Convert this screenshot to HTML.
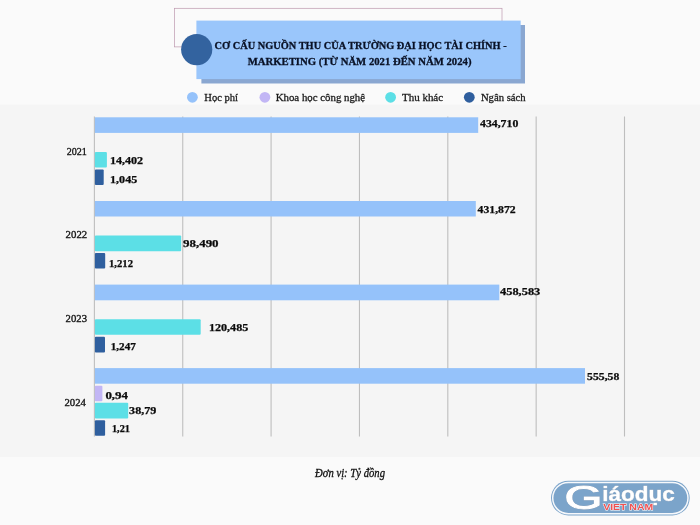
<!DOCTYPE html>
<html lang="vi"><head><meta charset="utf-8"><title>Cơ cấu nguồn thu</title>
<style>
html,body{margin:0;padding:0;background:#fafafa;}
body{width:700px;height:525px;overflow:hidden;position:relative;font-family:"Liberation Serif",serif;}
svg{position:absolute;left:0;top:0;display:block}
text{font-family:"Liberation Serif",serif;fill:#0a0a0a;}
.b{font-weight:bold;font-size:9.6px;stroke:#111;stroke-width:0.25px;}
.y{font-size:9.3px;fill:#151515;stroke:#151515;stroke-width:0.3px;}
.lg{font-size:11.3px;fill:#1a1a1a;stroke:#1a1a1a;stroke-width:0.3px;}
.lgo{font-family:"Liberation Sans",sans-serif;font-weight:bold;fill:#fff;stroke:#fff;stroke-width:0.8px;}
.t{font-weight:bold;font-size:11.2px;fill:#0a1226;stroke:#0a1226;stroke-width:0.3px;}
</style></head><body>
<svg width="700" height="525" viewBox="0 0 700 525">
<rect x="0" y="0" width="700" height="525" fill="#fafafa"/>
<rect x="0" y="104.7" width="700" height="352.3" fill="#f5f5f5"/>

<rect x="174.5" y="8.3" width="327.5" height="38.6" fill="none" stroke="#bd98ae" stroke-width="0.7"/>
<rect x="201.4" y="25" width="323.6" height="58.5" fill="#8aa7d1"/>
<rect x="196.4" y="20.6" width="324.3" height="58.5" fill="#9ac6fb"/>
<circle cx="196.7" cy="49.6" r="15.6" fill="#33639f"/>
<text class="t" x="214.6" y="49.2" textLength="292" lengthAdjust="spacingAndGlyphs">CƠ CẤU NGUỒN THU CỦA TRƯỜNG ĐẠI HỌC TÀI CHÍNH -</text>
<text class="t" x="247.7" y="64.9" textLength="223.8" lengthAdjust="spacingAndGlyphs">MARKETING (TỪ NĂM 2021 ĐẾN NĂM 2024)</text>
<circle cx="192.4" cy="97.3" r="5.4" fill="#95c2fa"/>
<text class="lg" x="204.3" y="100.8" textLength="33.7" lengthAdjust="spacingAndGlyphs">Học phí</text>
<circle cx="264.9" cy="97.3" r="5.4" fill="#c2b6f5"/>
<text class="lg" x="275.7" y="100.8" textLength="89.4" lengthAdjust="spacingAndGlyphs">Khoa học công nghệ</text>
<circle cx="390.6" cy="97.3" r="5.4" fill="#5cdfe6"/>
<text class="lg" x="402.0" y="100.8" textLength="41.1" lengthAdjust="spacingAndGlyphs">Thu khác</text>
<circle cx="469.3" cy="97.3" r="5.4" fill="#2f5f9e"/>
<text class="lg" x="480.9" y="100.8" textLength="44.8" lengthAdjust="spacingAndGlyphs">Ngân sách</text>
<line x1="94.40" y1="116.5" x2="94.40" y2="436.5" stroke="#bebebe" stroke-width="1.1"/>
<line x1="182.75" y1="116.5" x2="182.75" y2="436.5" stroke="#bebebe" stroke-width="1.1"/>
<line x1="271.10" y1="116.5" x2="271.10" y2="436.5" stroke="#bebebe" stroke-width="1.1"/>
<line x1="359.45" y1="116.5" x2="359.45" y2="436.5" stroke="#bebebe" stroke-width="1.1"/>
<line x1="447.80" y1="116.5" x2="447.80" y2="436.5" stroke="#bebebe" stroke-width="1.1"/>
<line x1="536.15" y1="116.5" x2="536.15" y2="436.5" stroke="#bebebe" stroke-width="1.1"/>
<line x1="624.50" y1="116.5" x2="624.50" y2="436.5" stroke="#bebebe" stroke-width="1.1"/>
<rect x="94.9" y="117.3" width="383.3" height="15.6" fill="#95c2fa" rx="0"/>
<rect x="94.9" y="152.1" width="12.0" height="15.5" fill="#5cdfe6" rx="1"/>
<rect x="94.9" y="169.6" width="8.8" height="15.5" fill="#2f5f9e" rx="1"/>
<rect x="94.9" y="201.0" width="380.9" height="15.5" fill="#95c2fa" rx="0"/>
<rect x="94.9" y="235.5" width="86.3" height="15.7" fill="#5cdfe6" rx="1"/>
<rect x="94.9" y="253.0" width="10.3" height="15.6" fill="#2f5f9e" rx="1"/>
<rect x="94.9" y="284.6" width="404.4" height="15.7" fill="#95c2fa" rx="0"/>
<rect x="94.9" y="319.2" width="105.8" height="15.5" fill="#5cdfe6" rx="1"/>
<rect x="94.9" y="336.8" width="10.1" height="15.7" fill="#2f5f9e" rx="1"/>
<rect x="94.9" y="368.1" width="490.1" height="15.6" fill="#95c2fa" rx="0"/>
<rect x="94.9" y="385.8" width="7.5" height="15.5" fill="#c2b6f5" rx="1"/>
<rect x="94.9" y="402.8" width="33.3" height="15.8" fill="#5cdfe6" rx="1"/>
<rect x="94.9" y="420.3" width="10.2" height="15.5" fill="#2f5f9e" rx="1"/>
<text class="b" x="480.0" y="126.7" textLength="38.3" lengthAdjust="spacingAndGlyphs">434,710</text>
<text class="b" x="109.9" y="163.9" textLength="33.2" lengthAdjust="spacingAndGlyphs">14,402</text>
<text class="b" x="110.1" y="182.9" textLength="27.1" lengthAdjust="spacingAndGlyphs">1,045</text>
<text class="b" x="477.6" y="213.3" textLength="38.1" lengthAdjust="spacingAndGlyphs">431,872</text>
<text class="b" x="183.0" y="246.6" textLength="35.6" lengthAdjust="spacingAndGlyphs">98,490</text>
<text class="b" x="109.0" y="266.6" textLength="24.0" lengthAdjust="spacingAndGlyphs">1,212</text>
<text class="b" x="500.0" y="294.7" textLength="40.3" lengthAdjust="spacingAndGlyphs">458,583</text>
<text class="b" x="208.9" y="331.4" textLength="39.4" lengthAdjust="spacingAndGlyphs">120,485</text>
<text class="b" x="110.7" y="349.6" textLength="25.2" lengthAdjust="spacingAndGlyphs">1,247</text>
<text class="b" x="587.1" y="380.3" textLength="32.2" lengthAdjust="spacingAndGlyphs">555,58</text>
<text class="b" x="105.4" y="398.9" textLength="22.6" lengthAdjust="spacingAndGlyphs">0,94</text>
<text class="b" x="129.1" y="413.8" textLength="27.2" lengthAdjust="spacingAndGlyphs">38,79</text>
<text class="b" x="111.9" y="431.8" textLength="18.1" lengthAdjust="spacingAndGlyphs">1,21</text>
<text class="y" x="66.7" y="154.6" textLength="20.2" lengthAdjust="spacingAndGlyphs">2021</text>
<text class="y" x="65.6" y="237.9" textLength="21.6" lengthAdjust="spacingAndGlyphs">2022</text>
<text class="y" x="65.6" y="321.5" textLength="21.4" lengthAdjust="spacingAndGlyphs">2023</text>
<text class="y" x="64.4" y="405.6" textLength="21.5" lengthAdjust="spacingAndGlyphs">2024</text>
<text x="315" y="476.6" font-style="italic" font-size="11.6px" fill="#1a1a1a" stroke="#1a1a1a" stroke-width="0.3" textLength="70" lengthAdjust="spacingAndGlyphs">Đơn vị: Tỷ đồng</text>
<g>
<rect x="551" y="480.7" width="138.7" height="34.7" rx="17.35" fill="#7ba4ca"/>
<rect x="552.7" y="482.4" width="135.3" height="31.3" rx="15.65" fill="none" stroke="#f6f8fb" stroke-width="1.5"/>
<g style="filter:drop-shadow(0.7px 0.7px 0.4px #3f5f86)">
<text class="lgo" x="564.6" y="509.4" font-size="33px" style="font-weight:normal;stroke-width:1.1px" textLength="38" lengthAdjust="spacingAndGlyphs">G</text>
<text class="lgo" x="602.3" y="501.1" font-size="20.8px" style="stroke-width:0.5px" textLength="72.6" lengthAdjust="spacingAndGlyphs">iáodục</text>
</g>
<text x="603.2" y="509.6" style="font-family:'Liberation Sans',sans-serif;font-weight:bold;font-size:8.3px;fill:#f05252;stroke:#fff;stroke-width:0.8px;paint-order:stroke" textLength="50" lengthAdjust="spacingAndGlyphs">VIET NAM</text>
</g>
</svg></body></html>
